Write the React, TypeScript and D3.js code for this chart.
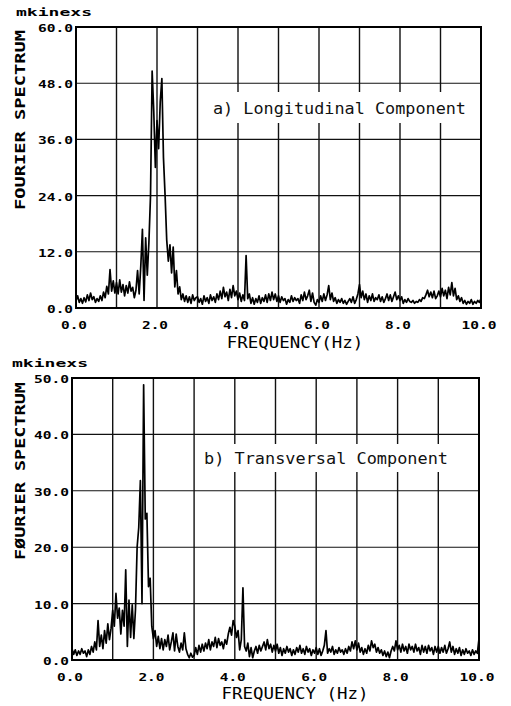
import * as d3 from 'd3';
import React from 'react';

// sampling step of both spectra (Hz)
const FREQ_STEP = 0.04;

// a) Longitudinal component, 0.00 .. 10.00 Hz
const longitudinal = [
  1.5, 2.6, 1.2, 2.0, 1.0, 2.2, 1.3, 2.8, 1.6, 3.2, 1.8, 2.4, 1.2, 2.0, 1.4, 2.6, 1.6, 3.4, 2.2, 4.6, 3.0, 8.2, 3.6, 5.8, 3.2,
  5.4, 3.0, 6.0, 3.4, 5.0, 2.6, 4.8, 3.2, 5.6, 3.6, 4.4, 2.2, 3.8, 8.0, 3.0, 9.0, 16.8, 1.6, 15.0, 7.0, 14.0, 24.0, 50.6, 42.0, 30.0,
  40.0, 34.0, 44.0, 49.0, 32.0, 24.0, 14.5, 10.0, 13.5, 7.5, 13.0, 4.5, 8.0, 3.0, 4.5, 1.8, 3.0, 1.4, 2.6, 1.2, 2.4, 1.0, 2.8, 1.6, 2.2,
  2.4, 1.2, 2.0, 0.8, 2.6, 1.4, 2.2, 1.0, 2.8, 1.6, 2.4, 1.2, 3.0, 1.8, 3.6, 2.0, 4.4, 2.4, 3.4, 1.6, 4.0, 2.2, 4.8, 2.6, 3.6,
  1.8, 3.2, 1.4, 2.8, 1.6, 11.2, 2.0, 3.0, 1.0, 2.2, 0.8, 2.0, 1.2, 2.6, 1.0, 2.2, 1.4, 2.8, 1.2, 3.0, 1.6, 3.4, 1.8, 3.0, 1.4,
  2.6, 1.2, 2.4, 1.6, 2.0, 0.8, 1.8, 1.2, 2.6, 1.4, 2.2, 1.6, 2.0, 1.0, 2.8, 1.6, 3.4, 1.8, 2.6, 3.8, 1.4, 3.2, 1.2, 0.6, 1.8,
  1.2, 2.6, 1.4, 3.0, 1.6, 2.8, 4.8, 1.8, 3.2, 1.4, 2.2, 1.0, 1.8, 1.2, 2.0, 1.0, 1.6, 0.8, 1.4, 2.0, 1.2, 2.4, 1.0, 1.8, 3.0,
  5.0, 2.2, 3.6, 1.8, 3.0, 1.2, 2.6, 1.6, 3.0, 1.4, 2.2, 1.8, 2.8, 1.4, 2.4, 1.2, 2.0, 3.0, 1.6, 2.8, 1.4, 2.4, 3.4, 1.8, 2.6,
  1.6, 2.4, 1.0, 1.8, 1.2, 2.0, 1.4, 1.2, 1.6, 1.0, 1.4, 1.2, 1.8, 1.4, 2.2, 2.0, 2.8, 3.8, 2.4, 3.4, 2.2, 3.6, 2.0, 2.6, 3.6,
  2.4, 4.2, 2.6, 3.8, 2.0, 4.4, 2.8, 5.4, 2.6, 4.2, 1.8, 2.6, 1.4, 2.2, 1.0, 1.6, 0.8, 1.4, 1.0, 1.8, 0.8, 1.4, 1.0, 1.6, 1.2, 2.0,
];

// b) Transversal component, 0.00 .. 10.00 Hz
const transversal = [
  2.0, 1.0, 1.8, 0.8, 1.6, 1.0, 2.0, 1.2, 1.6, 0.6, 1.8, 1.0, 2.4, 1.4, 3.2, 1.8, 7.0, 2.4, 4.4, 2.0, 5.2, 3.0, 6.4, 3.6, 5.6,
  8.8, 6.0, 11.8, 7.4, 9.2, 4.6, 8.8, 6.0, 16.0, 2.4, 10.6, 4.0, 9.8, 3.8, 9.0, 20.0, 23.5, 31.8, 10.0, 48.8, 25.0, 26.0, 13.0, 14.5, 6.0,
  3.8, 5.2, 2.4, 4.2, 2.0, 3.8, 1.8, 3.6, 2.4, 4.4, 1.8, 3.2, 4.8, 1.6, 4.6, 2.4, 1.4, 3.0, 1.8, 4.8, 2.0, 1.0, 0.4, 1.2, 0.5,
  0.8, 2.2, 1.0, 2.6, 1.4, 2.8, 1.6, 3.0, 2.0, 3.6, 1.8, 3.2, 2.4, 4.0, 2.2, 3.8, 2.6, 3.2, 2.0, 3.6, 2.8, 4.6, 5.8, 4.4, 7.0,
  6.0, 4.0, 5.2, 1.8, 3.6, 12.8, 2.4, 1.6, 3.0, 0.6, 2.2, 0.4, 1.6, 2.4, 1.2, 2.6, 1.6, 2.4, 3.2, 1.8, 3.6, 2.0, 2.8, 1.4, 2.6,
  1.6, 2.8, 1.2, 2.2, 0.8, 2.0, 1.2, 2.4, 1.4, 2.0, 0.8, 1.8, 1.0, 2.2, 1.4, 2.6, 1.2, 2.0, 1.0, 2.4, 1.4, 2.0, 0.8, 1.8, 1.2,
  2.2, 1.0, 2.0, 0.8, 1.6, 2.6, 5.2, 1.2, 2.0, 1.4, 2.4, 1.0, 1.8, 1.2, 2.2, 1.4, 1.8, 1.0, 2.0, 1.2, 2.4, 1.6, 3.2, 2.0, 3.4,
  1.8, 3.0, 1.4, 2.2, 1.0, 2.0, 1.2, 2.6, 1.6, 3.4, 2.2, 2.8, 1.4, 2.2, 1.2, 1.8, 0.8, 1.6, 0.6, 1.4, 0.4, 1.6, 2.4, 1.6, 3.4,
  1.8, 2.6, 1.4, 2.8, 1.6, 2.4, 1.2, 2.8, 1.8, 2.4, 1.4, 2.8, 1.6, 2.2, 1.0, 2.6, 1.4, 2.4, 1.2, 2.6, 1.6, 2.2, 1.0, 2.4, 1.4,
  2.4, 1.2, 2.2, 1.4, 2.6, 1.2, 2.0, 3.2, 1.4, 2.4, 1.0, 2.0, 1.2, 2.2, 0.8, 1.8, 1.0, 2.0, 1.2, 1.6, 0.8, 1.8, 1.0, 1.6, 1.2, 3.8,
];

const xTickValues = [0, 2, 4, 6, 8, 10];
const xTickLabels = ['0.0', '2.0', '4.0', '6.0', '8.0', '10.0'];
const yTicksA = [0, 12, 24, 36, 48, 60];
const yTickLabelsA = ['0.0', '12.0', '24.0', '36.0', '48.0', '60.0'];
const yTicksB = [0, 10, 20, 30, 40, 50];
const yTickLabelsB = ['0.0', '10.0', '20.0', '30.0', '40.0', '50.0'];

const MONO = '"DejaVu Sans Mono", "Liberation Mono", monospace';

type PanelProps = {
  id: string;
  values: number[];
  left: number;
  right: number;
  top: number;
  bottom: number;
  yMax: number;
  yTicks: number[];
  yTickLabels: string[];
  unitY: number;
  yTitle: string;
  yTitleLen: number;
  yTitleCenter: number;
  xTitle: string;
  xTitleBaseline: number;
  xLabelBaseline: number;
  note: string;
  noteX: number;
  noteBaseline: number;
  noteLen: number;
  noteBox: [number, number, number, number];
};

const Panel = (p: PanelProps) => {
  const x = d3.scaleLinear().domain([0, 10]).range([p.left, p.right]);
  const y = d3.scaleLinear().domain([0, p.yMax]).range([p.bottom, p.top]);
  const line = d3
    .line<number>()
    .x((d, i) => x(i * FREQ_STEP))
    .y((d) => y(d));
  const vGrid = d3.range(1, 10);

  return (
    <g>
      <defs>
        <clipPath id={'clip-' + p.id}>
          <rect x={p.left} y={p.top} width={p.right - p.left} height={p.bottom - p.top} />
        </clipPath>
      </defs>
      {/* grid */}
      {vGrid.map((v) => (
        <line key={'v' + v} x1={x(v)} x2={x(v)} y1={p.top} y2={p.bottom} stroke="#111" strokeWidth={1.4} />
      ))}
      {p.yTicks.slice(1, -1).map((v) => (
        <line key={'h' + v} x1={p.left} x2={p.right} y1={y(v)} y2={y(v)} stroke="#111" strokeWidth={1.1} />
      ))}
      {/* annotation box hides the grid */}
      <rect x={p.noteBox[0]} y={p.noteBox[1]} width={p.noteBox[2]} height={p.noteBox[3]} fill="#fff" />
      <text
        x={p.noteX}
        y={p.noteBaseline}
        fontFamily={MONO}
        fontSize={16.5}
        textLength={p.noteLen}
        lengthAdjust="spacingAndGlyphs"
        fill="#111"
      >
        {p.note}
      </text>
      {/* spectrum */}
      <path d={line(p.values) || ''} fill="none" stroke="#000" strokeWidth={1.7} strokeLinejoin="round" clipPath={`url(#clip-${p.id})`} />
      {/* frame */}
      <rect x={p.left} y={p.top} width={p.right - p.left} height={p.bottom - p.top} fill="none" stroke="#000" strokeWidth={2} />
      {/* y tick labels */}
      {p.yTicks.map((v, i) => (
        <text
          key={'yl' + v}
          x={p.left - 3}
          y={y(v) + 5}
          textAnchor="end"
          fontFamily={MONO}
          fontWeight="bold"
          fontSize={11}
          textLength={p.yTickLabels[i].length * 9 - 1}
          lengthAdjust="spacingAndGlyphs"
          fill="#000"
        >
          {p.yTickLabels[i]}
        </text>
      ))}
      {/* x tick labels */}
      {xTickValues.map((v, i) => (
        <text
          key={'xl' + v}
          x={x(v) - 2}
          y={p.xLabelBaseline}
          textAnchor="middle"
          fontFamily={MONO}
          fontWeight="bold"
          fontSize={11}
          textLength={xTickLabels[i].length * 9 - 1}
          lengthAdjust="spacingAndGlyphs"
          fill="#000"
        >
          {xTickLabels[i]}
        </text>
      ))}
      {/* titles */}
      <text
        x={295}
        y={p.xTitleBaseline}
        textAnchor="middle"
        fontFamily={MONO}
        fontSize={15}
        textLength={p.xTitle.length * 10.5}
        lengthAdjust="spacingAndGlyphs"
        fill="#000"
      >
        {p.xTitle}
      </text>
      <text
        transform={`translate(25,${p.yTitleCenter}) rotate(-90)`}
        textAnchor="middle"
        fontFamily={MONO}
        fontSize={14.5}
        fontWeight="bold"
        textLength={p.yTitleLen}
        lengthAdjust="spacingAndGlyphs"
        fill="#000"
      >
        {p.yTitle}
      </text>
      <text
        x={p.left - 60}
        y={p.unitY}
        fontFamily={MONO}
        fontWeight="bold"
        fontSize={11}
        textLength={76}
        lengthAdjust="spacingAndGlyphs"
        fill="#000"
      >
        mkinexs
      </text>
    </g>
  );
};

export default function App() {
  return (
    <svg width={511} height={706} style={{ position: 'absolute', left: 0, top: 0, background: '#fff' }}>
      <rect width={511} height={706} fill="#fff" />
      <Panel
        id="a"
        values={longitudinal}
        left={76}
        right={481}
        top={27}
        bottom={308}
        yMax={60}
        yTicks={yTicksA}
        yTickLabels={yTickLabelsA}
        unitY={16}
        yTitle="FOURIER SPECTRUM"
        yTitleLen={180}
        yTitleCenter={120}
        xTitle="FREQUENCY(Hz)"
        xTitleBaseline={348}
        xLabelBaseline={329}
        note="a) Longitudinal Component"
        noteX={213}
        noteBaseline={113.5}
        noteLen={253}
        noteBox={[208, 92, 262, 31]}
      />
      <Panel
        id="b"
        values={transversal}
        left={72}
        right={479}
        top={378}
        bottom={660}
        yMax={50}
        yTicks={yTicksB}
        yTickLabels={yTickLabelsB}
        unitY={367}
        yTitle="FØURIER SPECTRUM"
        yTitleLen={178}
        yTitleCenter={471}
        xTitle="FREQUENCY (Hz)"
        xTitleBaseline={699}
        xLabelBaseline={681}
        note="b) Transversal Component"
        noteX={204}
        noteBaseline={464}
        noteLen={244}
        noteBox={[199, 444, 253, 28]}
      />
    </svg>
  );
}
